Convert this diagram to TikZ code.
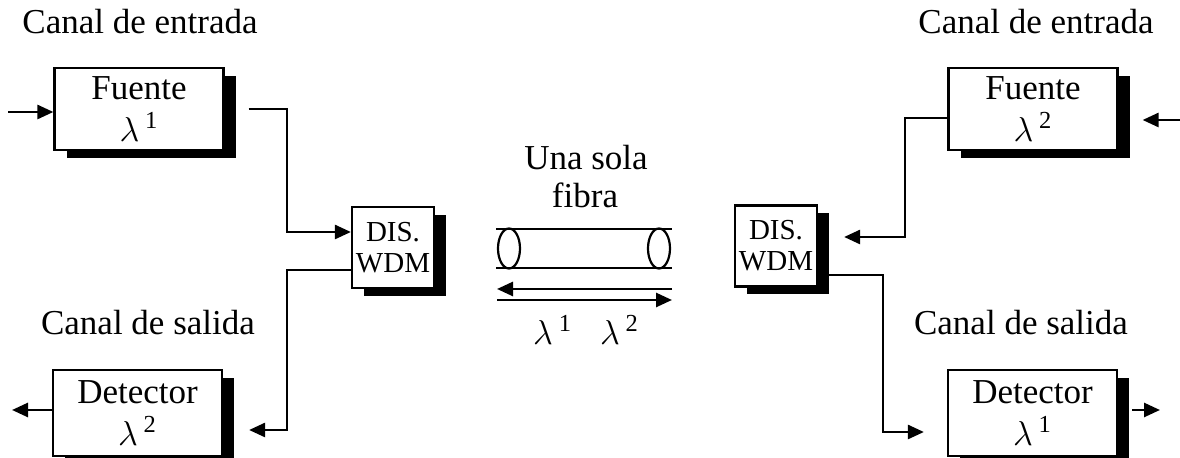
\documentclass[tikz,border=0pt]{standalone}
\usepackage{fontspec}
\setmainfont{Liberation Serif}
\usetikzlibrary{arrows.meta,shadows}
\newcommand{\lam}[1]{$\lambda$\,\textsuperscript{#1}}
\begin{document}
\begin{tikzpicture}[x=0.5pt,y=-0.5pt,
  arr/.style={-{Triangle[length=8pt,width=7pt]}, line width=1.3pt},
  ln/.style={line width=1.3pt},
  blk/.style={draw, line width=1.1pt, fill=white, align=center, inner sep=0pt,
    font=\fontsize{17.5}{21}\selectfont,
    drop shadow={shadow xshift=6pt, shadow yshift=-4pt, fill=black, opacity=1}},
  wdm/.style={blk, minimum width=41pt, minimum height=40.5pt, font=\fontsize{14.5}{15.5}\selectfont},
  big/.style={blk, minimum width=84.5pt, minimum height=41pt},
  lbl/.style={font=\fontsize{17.5}{20}\selectfont, inner sep=0pt}]
\useasboundingbox (0,0) rectangle (1180,458);

% labels
\node[lbl] (t1) at (140,22) {Canal de entrada};
\node[lbl] (t2) at (1036,22) {Canal de entrada};
\node[lbl] (t3) at (148,323) {Canal de salida};
\node[lbl] (t4) at (1021,323) {Canal de salida};
\node[lbl] (t5) at (586,158) {Una sola};
\node[lbl] (t6) at (585,195) {fibra};
\node[lbl] (t7) at (586,330) {\lam{1}\hspace{0.8em}\lam{2}};

% blocks
\node[big] (f1) at (139,109) {Fuente\\\lam{1}};
\node[big] (f2) at (1033,109) {Fuente\\\lam{2}};
\node[big, minimum height=43pt] (d1) at (137.5,413) {Detector\\\lam{2}};
\node[big, minimum height=43pt] (d2) at (1032.5,413) {Detector\\\lam{1}};
\node[wdm] (w1) at (393,247.5) {DIS.\\WDM};
\node[wdm] (w2) at (776,246) {DIS.\\WDM};

% junction coordinates
\coordinate (a1) at (8,112);
\coordinate (j1) at (287,232);
\coordinate (j2) at (287,270);
\coordinate (j3) at (287,430);
\coordinate (o1) at (12,410);
\coordinate (a2) at (1180,120);
\coordinate (j4) at (905,118);
\coordinate (j5) at (905,237);
\coordinate (j6) at (883,275);
\coordinate (j7) at (883,432);
\coordinate (o2) at (1160,410);

% left side connectors
\draw[arr] (a1) -- (a1 -| f1.west);
\draw[arr, shorten <=12pt] (f1.east) -| (j1) -- (j1 -| w1.west);
\draw[arr, shorten >=13pt] (j2 -| w1.west) -- (j2) -- (j3) -- (j3 -| d1.east);
\draw[arr] (o1 -| d1.west) -- (o1);

% right side connectors
\draw[arr, shorten >=12pt] (a2) -- (a2 -| f2.east);
\draw[arr, shorten >=13pt] (j4 -| f2.west) -- (j4) -- (j5) -- (j5 -| w2.east);
\draw[arr, shorten >=11.5pt] (j6 -| w2.east) -- (j6) -- (j7) -- (j7 -| d2.west);
\draw[arr, shorten <=7pt] (o2 -| d2.east) -- (o2);

% fibre
\coordinate (fa) at (496,229);
\coordinate (fb) at (672,229);
\coordinate (fc) at (496,268);
\coordinate (fd) at (672,268);
\draw[ln] (fa) -- (fb);
\draw[ln] (fc) -- (fd);
\draw[line width=1.1pt] (509,248.5) ellipse [x radius=5.5pt, y radius=10pt];
\draw[line width=1.1pt] (659,248.5) ellipse [x radius=5.5pt, y radius=10pt];

% direction arrows
\coordinate (g1) at (672,289);
\coordinate (g2) at (497,289);
\coordinate (g3) at (497,300);
\coordinate (g4) at (672,300);
\draw[arr] (g1) -- (g2);
\draw[arr] (g3) -- (g4);
\end{tikzpicture}
\end{document}
